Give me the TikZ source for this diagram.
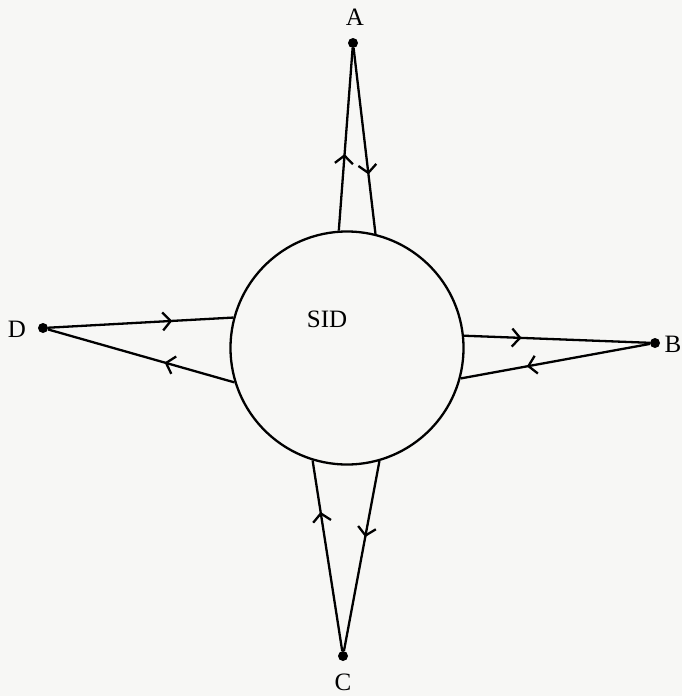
\documentclass[tikz,border=0pt]{standalone}
\usepackage{fontspec}
\setmainfont{Liberation Serif}
\usetikzlibrary{arrows.meta,decorations.markings}
\definecolor{paper}{RGB}{247,247,245}
\tikzset{
  lbl/.style={font=\fontsize{25}{25}\selectfont, inner sep=0pt},
  dot/.style={circle, fill=black, inner sep=0pt, minimum size=10pt},
  conn/.style={line width=2.3pt},
  midarr/.style={postaction={decorate,decoration={markings,
    mark=at position #1 with {\arrow{Straight Barb[length=8pt,width=18pt,line width=2.3pt]}}}}}
}
\begin{document}
\begin{tikzpicture}[x=1pt,y=-1pt]
\fill[paper] (0,0) rectangle (682,696);
\useasboundingbox (0,0) rectangle (682,696);
\node[circle, draw, line width=2.3pt, minimum size=233pt, inner sep=0pt] (sid) at (347,348) {};
\node[lbl] (sidlabel) at (327,319) {SID};
% points
\node[dot] (a) at (353,43) {};
\node[dot] (b) at (655,343) {};
\node[dot] (c) at (343,656) {};
\node[dot] (d) at (43,328) {};
\node[lbl] (alabel) at (355,17) {A};
\node[lbl] (blabel) at (673,344) {B};
\node[lbl] (clabel) at (343,682) {C};
\node[lbl] (dlabel) at (17,329) {D};
% A
\draw[conn, midarr=0.42] (sid.94.9) -- (a);
\draw[conn, midarr=0.68] (a) -- (sid.76.8);
% D
\draw[conn, midarr=0.67] (d) -- (sid.165.3);
\draw[conn, midarr=0.375] (sid.197.4) -- (d);
% B
\draw[conn, midarr=0.31] (sid.6.4) -- (b);
\draw[conn, midarr=0.65] (b) -- (sid.-15.2);
% C
\draw[conn, midarr=0.73] (c) -- (sid.253.5);
\draw[conn, midarr=0.40] (sid.286) -- (c);
\end{tikzpicture}
\end{document}
